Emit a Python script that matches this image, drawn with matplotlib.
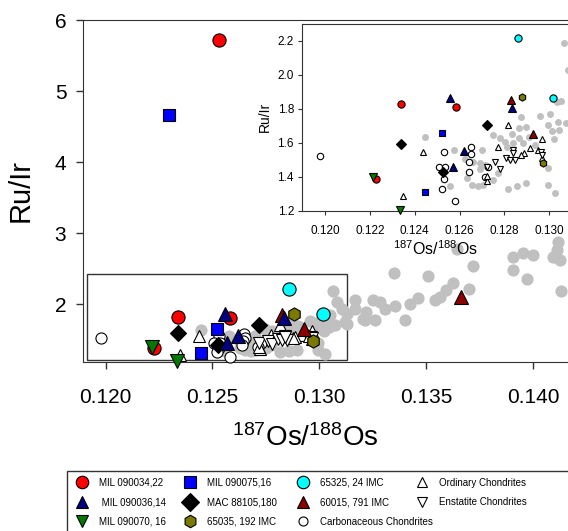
import matplotlib
matplotlib.use("Agg")
import matplotlib.pyplot as plt
from matplotlib.lines import Line2D
from matplotlib.patches import Rectangle
import numpy as np

plt.rcParams["font.family"] = ["Liberation Sans", "DejaVu Sans"]
plt.rcParams["mathtext.default"] = "regular"

# --- sample groups (187Os/188Os, Ru/Ir) ---
mil034_x = [0.12339, 0.12584, 0.12227, 0.12530]
mil034_y = [1.827, 1.812, 1.388, 5.72]
mil036_x = [0.12557, 0.12834, 0.12619, 0.12569]
mil036_y = [1.862, 1.805, 1.553, 1.455]
mil070_x = [0.12215, 0.12334]
mil070_y = [1.398, 1.205]
mil075_x = [0.12521, 0.12445, 0.12298]
mil075_y = [1.655, 1.310, 4.66]
mac88105_x = [0.12339, 0.12720, 0.12524]
mac88105_y = [1.590, 1.706, 1.427]
s65035_x = [0.12880, 0.12970]
s65035_y = [1.867, 1.478]
s65325_x = [0.12858, 0.13017]
s65325_y = [2.214, 1.865]
s60015_x = [0.12827, 0.12928, 0.13663]
s60015_y = [1.852, 1.651, 2.10]

# chondrites
carb_x = [0.11978, 0.12532, 0.12508, 0.12537, 0.12530, 0.12523, 0.12581,
          0.12649, 0.12650, 0.12643, 0.12640, 0.12728, 0.12713]
carb_y = [1.522, 1.547, 1.459, 1.459, 1.386, 1.329, 1.257,
          1.576, 1.531, 1.488, 1.429, 1.459, 1.400]
ord_x = [0.12438, 0.12349, 0.12814, 0.12772, 0.12723, 0.12720, 0.12967,
         0.12913, 0.12886, 0.12951, 0.12965, 0.12875]
ord_y = [1.547, 1.286, 1.702, 1.573, 1.376, 1.405, 1.622,
         1.569, 1.537, 1.557, 1.508, 1.525]
ens_x = [0.12720, 0.12758, 0.12780, 0.12807, 0.12824, 0.12847, 0.12838,
         0.12840, 0.12962, 0.12965]
ens_y = [1.455, 1.489, 1.445, 1.508, 1.500, 1.498, 1.557,
         1.540, 1.545, 1.525]

# grey background data
grey_x = [0.12447, 0.12576, 0.12557, 0.12624, 0.12661, 0.12691, 0.12713,
          0.12701, 0.12631, 0.12654, 0.12680, 0.12706, 0.12750, 0.12772,
          0.12817, 0.12857, 0.12895, 0.13025, 0.12995, 0.12802, 0.12836,
          0.12884, 0.12866, 0.12832, 0.12866, 0.12872, 0.12958, 0.13003,
          0.13037, 0.13072, 0.12995, 0.13010, 0.13044, 0.13022, 0.13035,
          0.13066, 0.12747, 0.12693, 0.12911, 0.12898, 0.12809, 0.12780,
          0.12935, 0.13050, 0.12995,
          0.13105, 0.13128, 0.13167, 0.13206, 0.13167, 0.13219, 0.13214,
          0.13261, 0.13250, 0.13284, 0.13308, 0.13354, 0.13401, 0.13425,
          0.13464, 0.13542, 0.13565, 0.13627, 0.13702, 0.13718, 0.13646,
          0.13351, 0.13507, 0.13908, 0.13955, 0.14002, 0.13908, 0.13971,
          0.14119, 0.14112, 0.14096, 0.14127, 0.14130, 0.13593, 0.13128,
          0.13120, 0.13081]
grey_y = [1.635, 1.557, 1.347, 1.502, 1.489, 1.445, 1.469,
          1.557, 1.391, 1.351, 1.347, 1.351, 1.381, 1.420,
          1.328, 1.347, 1.361, 1.302, 1.449, 1.606, 1.596,
          1.596, 1.626, 1.649, 1.689, 1.753, 1.759, 1.767,
          1.720, 1.714, 1.704, 1.671, 1.675, 1.620, 1.841,
          2.188, 1.645, 1.478, 1.636, 1.690, 1.576, 1.625,
          1.585, 1.845, 1.350,
          1.939, 1.728, 2.056, 1.798, 1.939, 1.892, 1.775,
          1.775, 2.066, 2.033, 1.939, 1.972, 1.784, 2.009,
          2.094, 2.056, 2.103, 2.292, 2.221, 2.535, 2.784,
          2.441, 2.394, 2.666, 2.714, 2.690, 2.479, 2.362,
          2.878, 2.761, 2.666, 2.620, 2.187, 2.197, 1.869,
          1.750, 2.030]

open_groups = [
    (carb_x, carb_y, "o", "Carbonaceous Chondrites"),
    (ord_x, ord_y, "^", "Ordinary Chondrites"),
    (ens_x, ens_y, "v", "Enstatite Chondrites"),
]
samples = [
    (mil034_x, mil034_y, "o", "#ff0000", "MIL 090034,22"),
    (mil075_x, mil075_y, "s", "#0000ff", "MIL 090075,16"),
    (mac88105_x, mac88105_y, "D", "#000000", "MAC 88105,180"),
    (s65035_x, s65035_y, "h", "#7a7a00", "65035, 192 IMC"),
    (s65325_x, s65325_y, "o", "#00ffff", "65325, 24 IMC"),
    (s60015_x, s60015_y, "^", "#8b0000", "60015, 791 IMC"),
    (mil036_x, mil036_y, "^", "#000080", " MIL 090036,14"),
    (mil070_x, mil070_y, "v", "#007a00", "MIL 090070, 16"),
]


def inside(ax, xs, ys):
    x0, x1 = ax.get_xlim()
    y0, y1 = ax.get_ylim()
    xs = np.asarray(xs)
    ys = np.asarray(ys)
    keep = (xs >= x0) & (xs <= x1) & (ys >= y0 - 0.02) & (ys <= y1)
    return xs[keep], ys[keep]


def draw_points(ax, grey_ms, open_ms, ms):
    ax.plot(grey_x, grey_y, "o", color="#c0c0c0", ms=grey_ms, mec="none", zorder=2)
    for xs, ys, m, _ in open_groups:
        px, py = inside(ax, xs, ys)
        ax.plot(px, py, m, mfc="white", mec="black", ms=open_ms, mew=0.8,
                zorder=3, clip_on=False)
    for xs, ys, m, c, _ in samples:
        px, py = inside(ax, xs, ys)
        size = ms * 0.9 if m in ("D", "s") else ms
        ax.plot(px, py, m, mfc=c, mec="black", ms=size, mew=0.8,
                zorder=4, clip_on=False)


W, H = 568, 531
fig = plt.figure(figsize=(W / 100, H / 100), dpi=100)

# main axes
ax = fig.add_axes([83 / W, 1 - 362 / H, (W - 83) / W, (362 - 20) / H])
ax.set_xlim(0.11894, 0.14164)
ax.set_ylim(1.187, 6.0)
ax.set_xticks([0.120, 0.125, 0.130, 0.135, 0.140])
ax.set_xticklabels([f"{v:.3f}" for v in ax.get_xticks()])
ax.set_yticks([2, 3, 4, 5, 6])
ax.tick_params(direction="out", length=5, width=1, labelsize=15, pad=7,
               color="#333333")
ax.tick_params(axis="x", pad=14)
for s in ax.spines.values():
    s.set_color("#333333")
ax.spines["right"].set_visible(False)
ax.set_ylabel("Ru/Ir", fontsize=21)
ax.yaxis.set_label_coords(-0.10, 0.5)
ax.set_xlabel("$^{187}$Os/$^{188}$Os", fontsize=20)
ax.xaxis.set_label_coords(0.458, -0.183)
ax.add_patch(Rectangle((0.11911, 1.221), 0.13130 - 0.11911, 2.42 - 1.221,
                       fill=False, ec="#333333", lw=1, zorder=1.5))
draw_points(ax, 8.8, 8.0, 9.5)

# inset axes
ins = fig.add_axes([302.3 / W, 1 - 210.7 / H, (W - 302.3) / W, (210.7 - 24) / H])
ins.set_xlim(0.11899, 0.13083)
ins.set_ylim(1.2, 2.298)
ins.set_xticks(np.arange(0.120, 0.1305, 0.002))
ins.set_xticklabels([f"{v:.3f}" for v in ins.get_xticks()])
ins.set_yticks(np.arange(1.2, 2.25, 0.2))
ins.set_yticklabels([f"{v:.1f}" for v in ins.get_yticks()])
ins.tick_params(direction="out", length=3, width=0.8, labelsize=8.5, pad=3,
                color="#333333")
ins.tick_params(axis="x", pad=7)
for s in ins.spines.values():
    s.set_color("#333333")
ins.spines["right"].set_visible(False)
ins.set_ylabel("Ru/Ir", fontsize=10)
ins.set_xlabel("$^{187}$Os/$^{188}$Os", fontsize=11.5, labelpad=2)
draw_points(ins, 5.0, 4.6, 5.2)

# legend: one frame, four columns
fig.patches.append(Rectangle((67 / W, -0.1), 1.0, (531 - 471) / H + 0.1,
                             transform=fig.transFigure, fill=False,
                             ec="#333333", lw=1))


def handle(m, fc, ms):
    return Line2D([], [], ls="none", marker=m, mfc=fc, mec="black", ms=ms, mew=0.8)


col_items = [
    [samples[0], samples[6], samples[7]],
    [samples[1], samples[2], samples[3]],
    [samples[4], samples[5], open_groups[0]],
    [open_groups[1], open_groups[2]],
]
col_x = [82, 190, 303, 422]
for items, cx in zip(col_items, col_x):
    hs, ls = [], []
    for it in items:
        if len(it) == 5:
            hs.append(handle(it[2], it[3], 9.0))
            ls.append(it[4])
        else:
            hs.append(handle(it[2], "white", 6.5))
            ls.append(it[3])
    fig.legend(hs, ls, loc="upper left",
               bbox_to_anchor=((cx - 7.3) / W, 1 - 477.5 / H),
               frameon=False, fontsize=7, borderpad=0, borderaxespad=0,
               handlelength=1.5, handletextpad=1.0, labelspacing=0.98)

fig.savefig("out.png", dpi=100)
